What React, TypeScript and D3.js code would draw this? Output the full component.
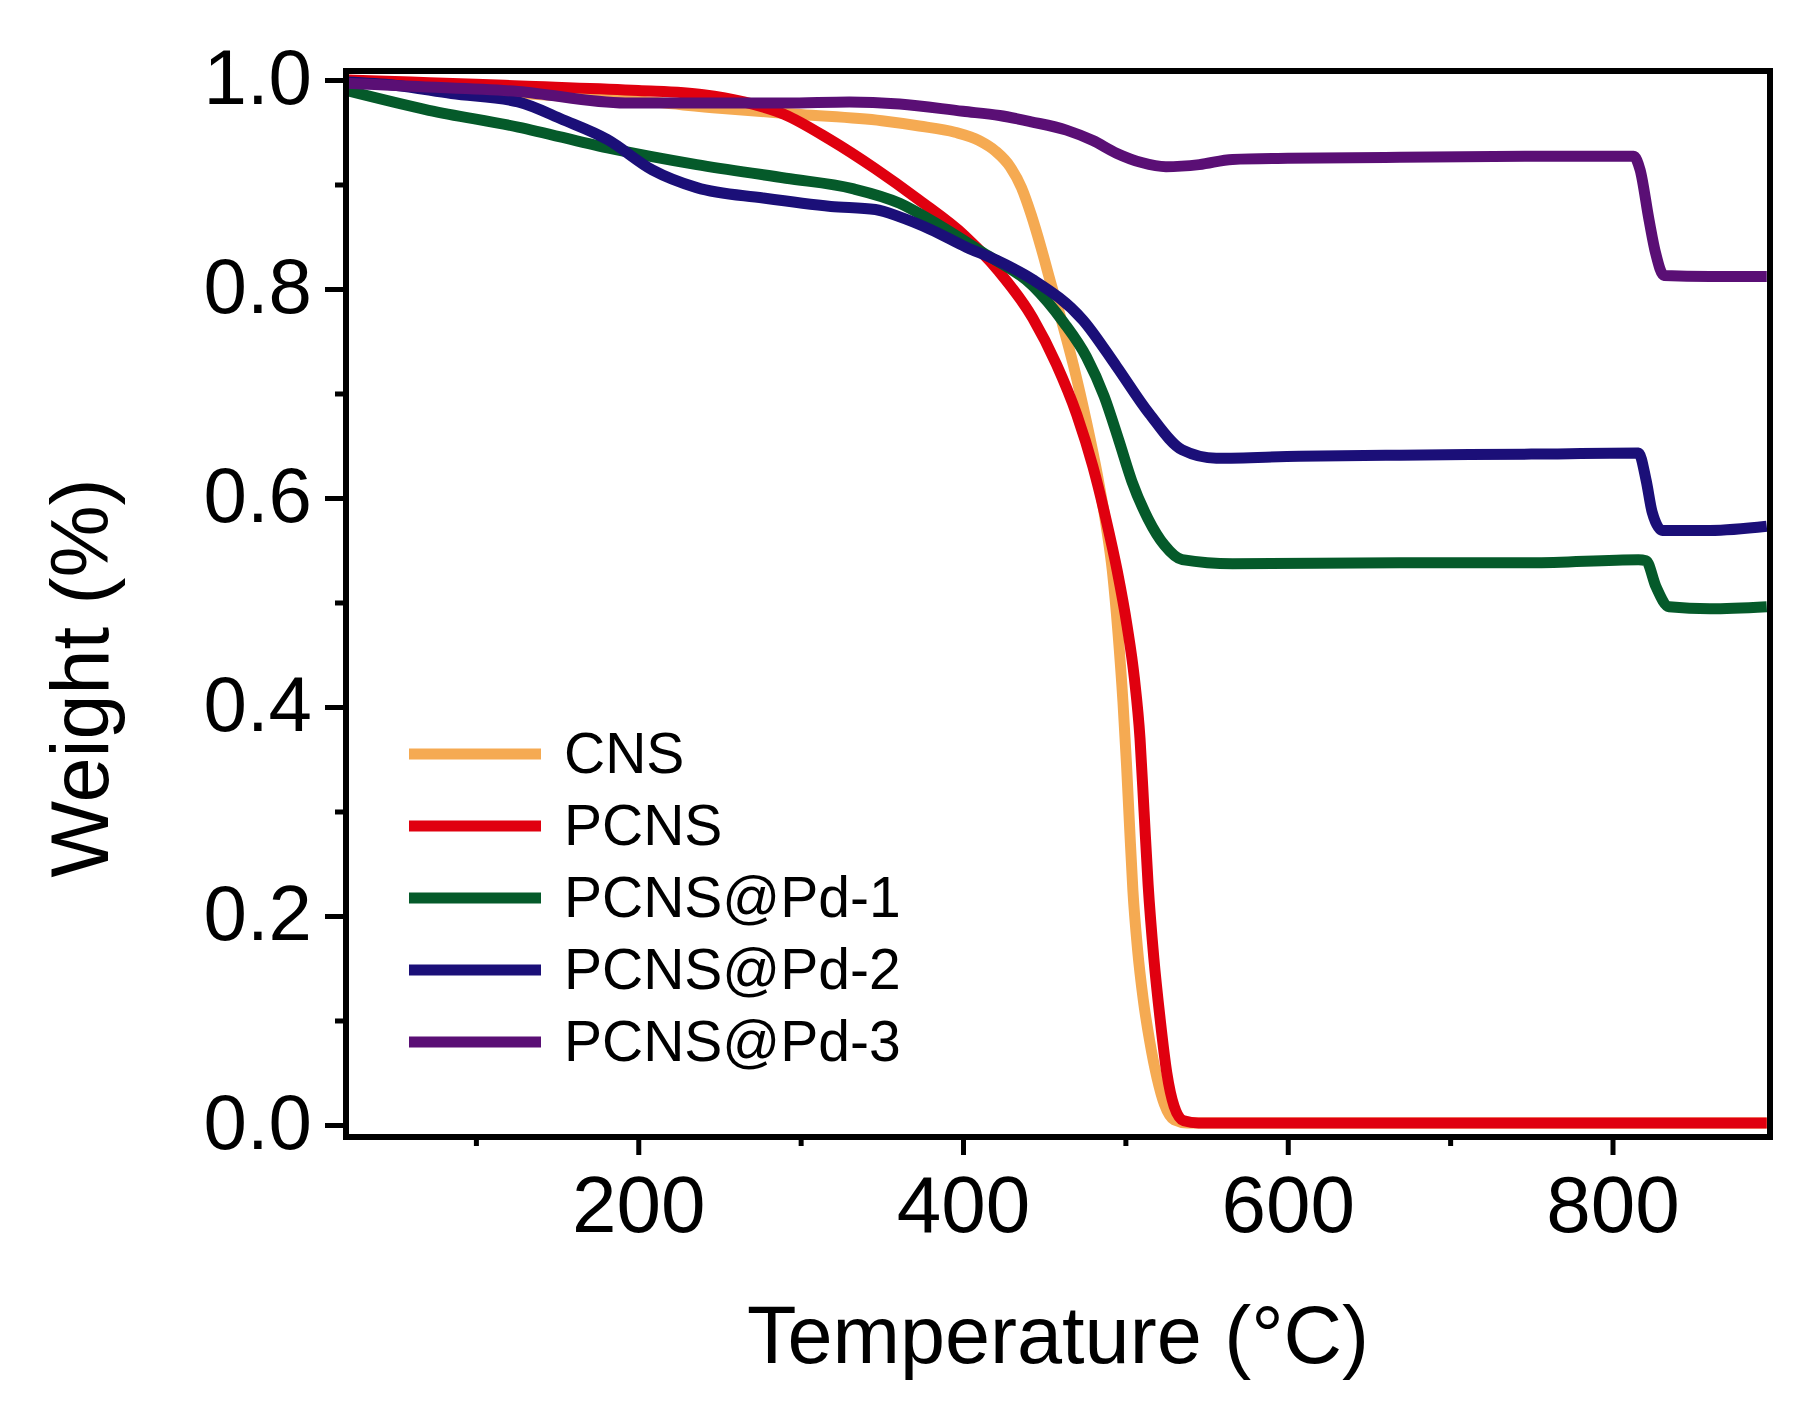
import React, { useEffect, useRef } from 'react';
import * as d3 from 'd3';

type Pt = [number, number];

const cnsData: Pt[] = [
  [20, 1.0], [60, 0.995], [100, 0.99], [150, 0.985], [200, 0.98], [250, 0.973], [300, 0.967],
  [350, 0.961], [373, 0.956], [395, 0.95], [410, 0.942], [420, 0.932], [429, 0.917], [436, 0.897],
  [442, 0.871], [448, 0.84], [454, 0.806], [461, 0.768], [468, 0.727], [476, 0.673], [483, 0.62],
  [488, 0.575], [492, 0.53], [495.5, 0.47], [498.5, 0.405], [500.7, 0.345], [502.6, 0.285],
  [504.6, 0.225], [507.5, 0.168], [511, 0.12], [515, 0.08], [519.5, 0.045], [524, 0.02],
  [530, 0.005], [538, 0.002], [600, 0.002], [700, 0.002], [800, 0.002], [895, 0.002],
];

const pcnsData: Pt[] = [
  [20, 1.0], [60, 0.998], [100, 0.996], [132, 0.994], [200, 0.99], [240, 0.986], [265, 0.979],
  [290, 0.967], [318, 0.943], [346, 0.915], [373, 0.885], [401, 0.851], [422, 0.817],
  [443, 0.772], [457.5, 0.728], [470, 0.68], [480, 0.63], [488, 0.58], [495, 0.53], [501, 0.478],
  [505.5, 0.428], [509, 0.37], [511.5, 0.3], [514, 0.23], [517.5, 0.16], [521.5, 0.1],
  [525.5, 0.05], [530, 0.018], [536, 0.004], [545, 0.002], [600, 0.002], [700, 0.002],
  [800, 0.002], [895, 0.002],
];

const pd1Data: Pt[] = [
  [20, 0.99], [71, 0.971], [126, 0.955], [181, 0.935], [236, 0.919], [291, 0.906], [332, 0.896],
  [361, 0.882], [380, 0.866], [412, 0.835], [443, 0.803], [462, 0.768], [476, 0.735],
  [487, 0.697], [496, 0.655], [504, 0.616], [514, 0.58], [524, 0.555], [535, 0.541],
  [566, 0.537], [669, 0.538], [750, 0.538], [816, 0.541], [820.7, 0.54], [826.8, 0.515],
  [834.8, 0.496], [860, 0.494], [895, 0.496],
];

const pd2Data: Pt[] = [
  [20, 0.998], [50, 0.995], [85, 0.987], [126, 0.979], [153.6, 0.962], [181, 0.943],
  [208.6, 0.914], [236, 0.897], [277, 0.887], [318.6, 0.879], [346, 0.876], [361, 0.869],
  [380, 0.857], [402, 0.84], [420, 0.828], [443, 0.809], [474, 0.77], [494.5, 0.726],
  [514.6, 0.681], [535, 0.646], [556, 0.638], [607, 0.64], [669, 0.641], [750, 0.642],
  [816, 0.643], [820.7, 0.617], [824.5, 0.586], [830.7, 0.569], [860, 0.569], [895, 0.573],
];

const pd3Data: Pt[] = [
  [20, 0.997], [60, 0.994], [126, 0.989], [192, 0.978], [250, 0.978], [291, 0.978], [330, 0.979],
  [361, 0.977], [400, 0.97], [422.5, 0.966], [442, 0.96], [463.7, 0.952], [480, 0.942],
  [494.5, 0.93], [510, 0.921], [525, 0.917], [545.5, 0.919], [566, 0.924], [600, 0.925],
  [669, 0.926], [750, 0.927], [813, 0.927], [817, 0.914], [822.5, 0.866], [826.6, 0.834],
  [831.7, 0.813], [860, 0.812], [895, 0.812],
];

const seriesNames = ['CNS', 'PCNS', 'PCNS@Pd-1', 'PCNS@Pd-2', 'PCNS@Pd-3'];
const seriesData = [cnsData, pcnsData, pd1Data, pd2Data, pd3Data];
const seriesColors = ['#F5AA52', '#E0000F', '#055A2A', '#1B0F78', '#5A0F75'];

const xTickValues = [200, 400, 600, 800];
const xMinorTicks = [100, 300, 500, 700];
const yTickValues = [0.0, 0.2, 0.4, 0.6, 0.8, 1.0];
const yMinorTicks = [0.1, 0.3, 0.5, 0.7, 0.9];

const xTitle = 'Temperature (°C)';
const yTitle = 'Weight (%)';

const W = 1820;
const H = 1406;
const FONT = '"Liberation Sans", Arial, Helvetica, sans-serif';

export default function App() {
  const ref = useRef<SVGSVGElement | null>(null);

  useEffect(() => {
    const svg = d3.select(ref.current);
    svg.selectAll('*').remove();

    const left = 346, right = 1770, top = 71, bottom = 1137;
    const x = d3.scaleLinear().domain([20, 897]).range([left, right]);
    const y = d3.scaleLinear().domain([-0.0115, 1.0086]).range([bottom, top]);

    svg.append('rect').attr('width', W).attr('height', H).attr('fill', '#ffffff');

    svg.append('defs').append('clipPath').attr('id', 'plotclip')
      .append('rect').attr('x', left).attr('y', top).attr('width', right - left).attr('height', bottom - top);

    // Curves
    const line = d3.line<Pt>().x((d) => x(d[0])).y((d) => y(d[1])).curve(d3.curveMonotoneX);
    const g = svg.append('g').attr('clip-path', 'url(#plotclip)');
    seriesData.forEach((data, i) => {
      g.append('path')
        .datum(data)
        .attr('d', line)
        .attr('fill', 'none')
        .attr('stroke', seriesColors[i])
        .attr('stroke-width', 11)
        .attr('stroke-linejoin', 'round');
    });

    // Axes
    const xAxis = svg.append('g').attr('transform', `translate(0,${bottom})`)
      .call(d3.axisBottom(x).tickValues(xTickValues).tickSize(18).tickFormat(d3.format('d')));
    xAxis.select('.domain').remove();
    xAxis.selectAll('line').attr('stroke', '#000').attr('stroke-width', 5);
    xAxis.selectAll('text')
      .attr('y', 95).attr('dy', 0)
      .attr('fill', '#000').attr('font-size', 80).attr('font-family', FONT);

    const xMinor = svg.append('g').attr('transform', `translate(0,${bottom})`)
      .call(d3.axisBottom(x).tickValues(xMinorTicks).tickSize(9).tickFormat(() => ''));
    xMinor.select('.domain').remove();
    xMinor.selectAll('line').attr('stroke', '#000').attr('stroke-width', 5);

    const yAxis = svg.append('g').attr('transform', `translate(${left},0)`)
      .call(d3.axisLeft(y).tickValues(yTickValues).tickSize(21).tickFormat(d3.format('.1f')));
    yAxis.select('.domain').remove();
    yAxis.selectAll('line').attr('stroke', '#000').attr('stroke-width', 5);
    yAxis.selectAll('text')
      .attr('x', -34).attr('dy', 24)
      .attr('fill', '#000').attr('font-size', 78).attr('font-family', FONT);

    const yMinor = svg.append('g').attr('transform', `translate(${left},0)`)
      .call(d3.axisLeft(y).tickValues(yMinorTicks).tickSize(11).tickFormat(() => ''));
    yMinor.select('.domain').remove();
    yMinor.selectAll('line').attr('stroke', '#000').attr('stroke-width', 5);

    // Frame
    svg.append('rect')
      .attr('x', left).attr('y', top).attr('width', right - left).attr('height', bottom - top)
      .attr('fill', 'none').attr('stroke', '#000').attr('stroke-width', 6);

    // Axis titles
    svg.append('text')
      .attr('x', (left + right) / 2).attr('y', 1363)
      .attr('text-anchor', 'middle').attr('font-size', 81).attr('font-family', FONT).attr('fill', '#000')
      .text(xTitle);
    svg.append('text')
      .attr('transform', `translate(108,678) rotate(-90)`)
      .attr('text-anchor', 'middle').attr('font-size', 81).attr('font-family', FONT).attr('fill', '#000')
      .text(yTitle);

    // Legend
    const legendY0 = 754;
    const legendStep = 72;
    const lg = svg.append('g');
    seriesNames.forEach((name, i) => {
      const ly = legendY0 + i * legendStep;
      lg.append('line')
        .attr('x1', 409).attr('x2', 541).attr('y1', ly).attr('y2', ly)
        .attr('stroke', seriesColors[i]).attr('stroke-width', 11);
      lg.append('text')
        .attr('x', 564).attr('y', ly + 19)
        .attr('font-size', 57).attr('font-family', FONT).attr('fill', '#000')
        .text(name);
    });
  }, []);

  return (
    <svg
      ref={ref}
      width={W}
      height={H}
      viewBox={`0 0 ${W} ${H}`}
      style={{ position: 'absolute', left: 0, top: 0, display: 'block' }}
    />
  );
}
